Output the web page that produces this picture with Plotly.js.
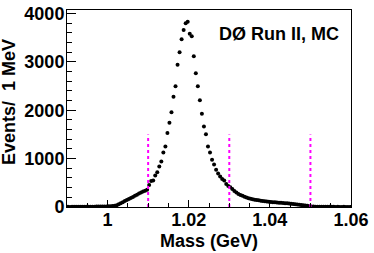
<!DOCTYPE html>
<html>
<head>
<meta charset="utf-8">
<script src="https://cdn.plot.ly/plotly-3.0.1.min.js"></script>
<style>html,body{margin:0;padding:0;background:#fff;}#chart{width:374px;height:253px;}</style>
</head>
<body>
<div id="chart"></div>
<script>
// Histogram: bin centres start at binStart, width binWidth (GeV)
const binStart = 0.99025;
const binWidth = 0.0005;
const counts = [
  3,2,4,3,3,4,5,4,5,5,6,6,7,7,8,9,9,10,11,12,
  14,18,22,28,38,55,78,100,122,145,165,185,205,232,255,278,298,318,335,358,
  456,539,548,649,719,836,939,1126,1250,1528,1741,1955,2280,2494,2937,3199,3468,3655,3794,3829,
  3580,3530,3116,2763,2494,2204,1928,1665,1503,1250,1126,974,877,767,690,628,580,545,477,435,
  408,370,330,300,270,249,232,214,195,180,168,160,150,145,138,130,124,118,112,108,
  104,100,97,93,90,86,82,79,76,72,68,62,56,50,44,41,36,30,25,18,
  12,8,6,5,5,4,4,3,4,3,3,3,2,3,2,2,3,2,2,2
];
const cutPositions = [1.01, 1.03, 1.05];
const cutHeight = 1500;
const xTickVals = [1, 1.02, 1.04, 1.06];
const xTickText = ['1', '1.02', '1.04', '1.06'];
const yTickVals = [0, 1000, 2000, 3000, 4000];
const yTickText = ['0', '1000', '2000', '3000', '4000'];
const xTitle = 'Mass (GeV)';
const yTitle = 'Events/  1 MeV';
const label = 'DØ Run II, MC';

const masses = counts.map((_, i) => binStart + i * binWidth);

const traces = [{
  type: 'scatter', mode: 'markers',
  x: masses, y: counts,
  marker: {color: '#000', size: 4},
  hoverinfo: 'skip', showlegend: false
}];
cutPositions.forEach(c => traces.push({
  type: 'scatter', mode: 'lines',
  x: [c, c], y: [0, cutHeight],
  line: {color: '#ff00ff', width: 2, dash: 'dot'},
  hoverinfo: 'skip', showlegend: false
}));

const fam = '"Liberation Sans", Arial, Helvetica, sans-serif';
const bold = {family: fam, size: 18, color: '#000', weight: 'bold'};
const layout = {
  width: 374, height: 253,
  margin: {l: 67, r: 23, t: 10, b: 46},
  paper_bgcolor: '#fff', plot_bgcolor: '#fff',
  font: bold,
  xaxis: {
    range: [0.99, 1.06], showgrid: false, zeroline: false,
    tickmode: 'array', tickvals: xTickVals, ticktext: xTickText,
    ticks: 'inside', ticklen: 7, tickcolor: '#000', tickwidth: 1,
    minor: {dtick: 0.005, tick0: 0.99, ticks: 'inside', ticklen: 4, tickcolor: '#000', showgrid: false},
    showline: true, linecolor: '#000', linewidth: 1, mirror: true,
    tickfont: bold,
    ticklabelstandoff: -4
  },
  yaxis: {
    range: [0, 4070], showgrid: false, zeroline: false,
    tickmode: 'array', tickvals: yTickVals, ticktext: yTickText,
    ticks: 'inside', ticklen: 9, tickcolor: '#000', tickwidth: 1,
    minor: {dtick: 200, ticks: 'inside', ticklen: 5, tickcolor: '#000', showgrid: false},
    showline: true, linecolor: '#000', linewidth: 1, mirror: true,
    tickfont: bold,
    ticklabelstandoff: -2
  },
  annotations: [
    {text: xTitle, xref: 'paper', yref: 'paper', x: 0.5, y: -0.172, xanchor: 'center', yanchor: 'middle',
     showarrow: false, font: bold},
    {text: yTitle, xref: 'paper', yref: 'paper', x: -0.204, y: 0.533, xanchor: 'center', yanchor: 'middle',
     textangle: -90, showarrow: false, font: bold},
    {text: label, xref: 'paper', yref: 'paper', x: 0.965, y: 0.88, xanchor: 'right', yanchor: 'middle',
     showarrow: false, font: bold}
  ]
};

Plotly.newPlot('chart', traces, layout, {staticPlot: true, displayModeBar: false});
</script>
</body>
</html>
